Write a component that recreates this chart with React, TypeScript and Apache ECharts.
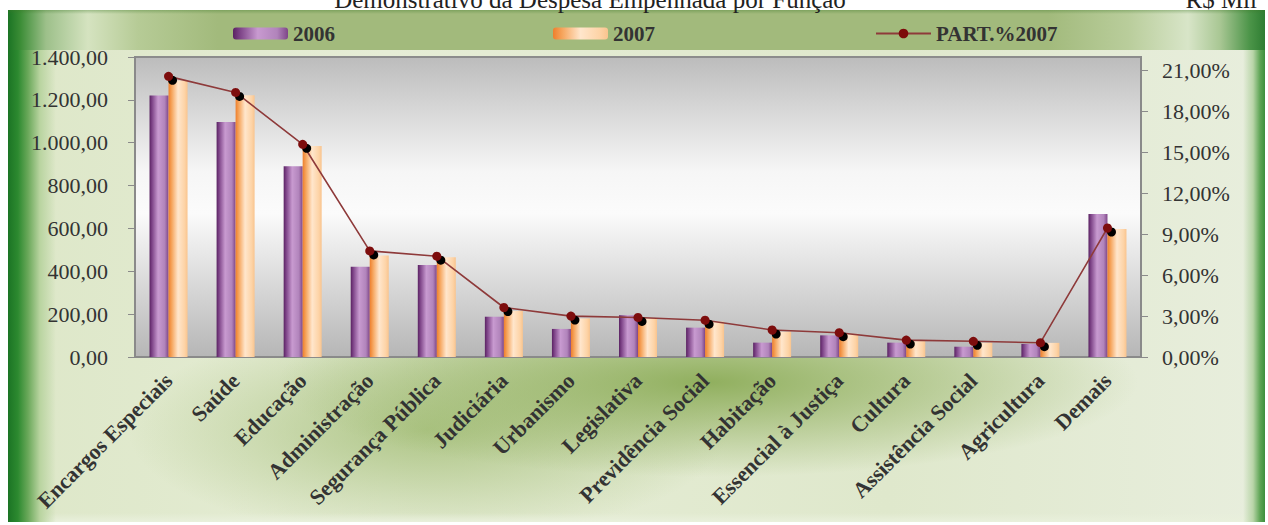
import React, { useEffect, useRef } from "react";
import * as echarts from "echarts";

// Functions of spending (R$ Mil)
const categories = [
  "Encargos Especiais",
  "Saúde",
  "Educação",
  "Administração",
  "Segurança Pública",
  "Judiciária",
  "Urbanismo",
  "Legislativa",
  "Previdência Social",
  "Habitação",
  "Essencial à Justiça",
  "Cultura",
  "Assistência Social",
  "Agricultura",
  "Demais",
];

const values2006 = [1220, 1097, 890, 421, 429, 188, 131, 195, 137, 67, 101, 67, 48, 61, 667];
const values2007 = [1290, 1222, 985, 474, 465, 215, 180, 182, 165, 118, 108, 74, 67, 66, 597];
const share2007 = [20.58, 19.4, 15.6, 7.78, 7.39, 3.63, 3.0, 2.9, 2.7, 1.98, 1.78, 1.24, 1.15, 1.05, 9.46];

const leftTicks = { min: 0, max: 1400, interval: 200 };
const rightTicks = { min: 0, max: 22, interval: 3, lastLabel: 21 };

const SERIF = '"Liberation Serif", "Times New Roman", serif';
const TEXT = "#333333";

const fmtBR = (v: number) => {
  const [i, d] = v.toFixed(2).split(".");
  return i.replace(/\B(?=(\d{3})+(?!\d))/g, ".") + "," + d;
};

export default function App() {
  const ref = useRef<HTMLDivElement>(null);

  useEffect(() => {
    if (!ref.current) return;
    const chart = echarts.init(ref.current, undefined, { renderer: "svg" });

    const purple = new echarts.graphic.LinearGradient(0, 0, 1, 0, [
      { offset: 0, color: "#5a2262" },
      { offset: 0.12, color: "#7b4185" },
      { offset: 0.45, color: "#c89ad0" },
      { offset: 0.8, color: "#b184bb" },
      { offset: 1, color: "#7e4688" },
    ]);
    const orange = new echarts.graphic.LinearGradient(0, 0, 1, 0, [
      { offset: 0, color: "#ee7f2c" },
      { offset: 0.18, color: "#f6a760" },
      { offset: 0.5, color: "#ffe6cc" },
      { offset: 0.85, color: "#fdd3a6" },
      { offset: 1, color: "#f9c48e" },
    ]);
    const plotBg = new echarts.graphic.LinearGradient(0, 0, 0, 1, [
      { offset: 0, color: "#bcbcbc" },
      { offset: 0.38, color: "#f6f6f6" },
      { offset: 0.52, color: "#fbfbfb" },
      { offset: 1, color: "#b6b6b6" },
    ]);

    const legendText = { fontFamily: SERIF, fontSize: 21, fontWeight: "bold" as const, color: TEXT };
    const legendBase = { top: 18, itemWidth: 55, itemHeight: 12, itemGap: 6, textStyle: legendText };

    chart.setOption({
      animation: false,
      textStyle: { fontFamily: SERIF },
      graphic: [
        {
          type: "text",
          x: 590,
          y: 12,
          style: {
            text: "Demonstrativo da Despesa Empenhada por Função",
            font: `25px ${SERIF}`,
            fill: "#222",
            align: "center",
            verticalAlign: "bottom",
          },
        },
        {
          type: "text",
          x: 1257,
          y: 12,
          style: {
            text: "R$ Mil",
            font: `25px ${SERIF}`,
            fill: "#222",
            align: "right",
            verticalAlign: "bottom",
          },
        },
      ],
      legend: [
        { ...legendBase, left: 228, data: ["2006"] },
        { ...legendBase, left: 548, data: ["2007"] },
        { ...legendBase, left: 870, data: ["PART.%2007"] },
      ],
      grid: {
        left: 135,
        right: 127,
        top: 57,
        bottom: 168,
        show: true,
        backgroundColor: plotBg,
        borderColor: "#8c8c8c",
        borderWidth: 2,
      },
      xAxis: {
        type: "category",
        data: categories,
        boundaryGap: true,
        axisLine: { lineStyle: { color: "#8a8a8a", width: 2 } },
        axisTick: { show: false },
        axisLabel: {
          interval: 0,
          rotate: 45,
          margin: 20,
          fontFamily: SERIF,
          fontSize: 22,
          fontWeight: "bold",
          color: TEXT,
        },
      },
      yAxis: [
        {
          type: "value",
          position: "left",
          min: leftTicks.min,
          max: leftTicks.max,
          interval: leftTicks.interval,
          splitLine: { show: false },
          axisLine: { show: true, lineStyle: { color: "#8a8a8a", width: 2 } },
          axisTick: { show: true, length: 7, lineStyle: { color: "#8a8a8a" } },
          axisLabel: {
            margin: 27,
            fontFamily: SERIF,
            fontSize: 22,
            color: TEXT,
            formatter: (v: number) => fmtBR(v),
          },
        },
        {
          type: "value",
          position: "right",
          min: rightTicks.min,
          max: rightTicks.max,
          interval: rightTicks.interval,
          splitLine: { show: false },
          axisLine: { show: true, lineStyle: { color: "#8a8a8a", width: 2 } },
          axisTick: { show: true, length: 7, lineStyle: { color: "#8a8a8a" } },
          axisLabel: {
            margin: 21,
            fontFamily: SERIF,
            fontSize: 22,
            color: TEXT,
            showMaxLabel: false,
            formatter: (v: number) =>
              v > rightTicks.lastLabel + 0.001 ? "" : v.toFixed(2).replace(".", ",") + "%",
          },
        },
      ],
      series: [
        {
          name: "2006",
          type: "bar",
          yAxisIndex: 0,
          data: values2006,
          barWidth: 19,
          barGap: "0%",
          itemStyle: { color: purple },
        },
        {
          name: "2007",
          type: "bar",
          yAxisIndex: 0,
          data: values2007,
          barWidth: 19,
          barGap: "0%",
          itemStyle: { color: orange },
        },
        {
          name: "PART.%2007",
          type: "line",
          yAxisIndex: 1,
          data: share2007,
          symbol: "circle",
          symbolSize: 9,
          lineStyle: { color: "#8e3a3a", width: 1.6 },
          itemStyle: {
            color: "#7d0a0a",
            shadowColor: "rgba(0,0,0,1)",
            shadowBlur: 1,
            shadowOffsetX: 4,
            shadowOffsetY: 4,
          },
          z: 5,
        },
      ],
    });

    return () => chart.dispose();
  }, []);

  const frameBg = [
    "linear-gradient(to right, #1b7424 0px, #2d8a30 10px, #6aa85a 20px, #b9d4a0 32px, rgba(225,234,205,0) 48px)",
    "linear-gradient(to left, #3d8f3d 0px, #5fa556 5px, #b9d5a8 12px, rgba(230,238,215,0) 22px)",
    "linear-gradient(to top, #e9f0dc 0px, rgba(233,240,220,0) 9px)",
    "radial-gradient(ellipse 430px 95px at 700px 372px, rgba(140,172,88,0.95), rgba(140,172,88,0))",
    "radial-gradient(ellipse 300px 110px at 420px 420px, rgba(150,180,100,0.7), rgba(150,180,100,0))",
    "linear-gradient(to right, #dde7c8, #e6edd6 30%, #dfe8cc 70%, #e8eedd)",
  ].join(", ");

  const bandBg = [
    "linear-gradient(to bottom, rgba(60,120,40,0.35) 0px, rgba(60,120,40,0) 4px)",
    "linear-gradient(to right, #1b7424 0px, #3a8c35 12px, #9dc08a 38px, #d5e3c0 80px, #b6cb96 130px, #a2ba7c 210px, #a2ba7c 1040px, #b9cd9b 1120px, #d8e5c8 1180px, #a9c794 1212px, #4b9448 1242px, #2e7d32 1257px)",
  ].join(", ");

  return (
    <div
      style={{
        position: "fixed",
        left: 0,
        top: 0,
        width: 1268,
        height: 525,
        background: "#ffffff",
        overflow: "hidden",
      }}
    >
      <div
        style={{ position: "absolute", left: 8, top: 10, width: 1257, height: 512, background: frameBg }}
      />
      <div
        style={{ position: "absolute", left: 8, top: 10, width: 1257, height: 40, background: bandBg }}
      />
      <div ref={ref} style={{ position: "absolute", left: 0, top: 0, width: 1268, height: 525 }} />
    </div>
  );
}
